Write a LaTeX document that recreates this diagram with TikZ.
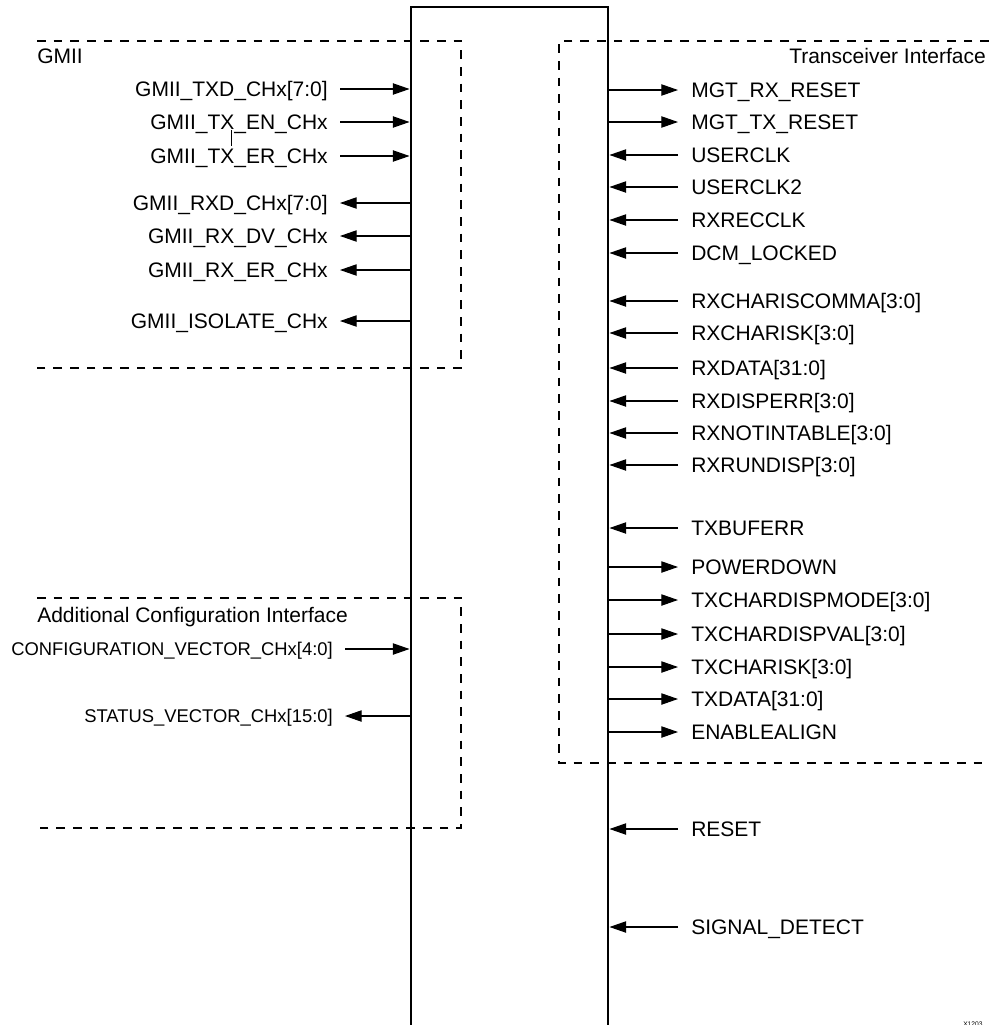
\documentclass[tikz,border=0pt]{standalone}
\usepackage{fontspec}
\setmainfont{Liberation Sans}
\usetikzlibrary{arrows.meta}
\newcommand\portfont{\fontsize{15.75}{19}\selectfont}
\newcommand\smallportfont{\fontsize{13.8}{16}\selectfont}
\tikzset{
  core/.style={draw, line width=2.2pt, minimum width=147.75pt, minimum height=789.75pt, inner sep=0pt},
  sigL/.style={anchor=east, font=\portfont, inner xsep=9pt, inner ysep=0pt, text height=11.3pt, text depth=0pt},
  sigR/.style={anchor=west, font=\portfont, inner xsep=9.75pt, inner ysep=0pt, text height=11.3pt, text depth=0pt},
  cfgL/.style={anchor=east, font=\smallportfont, inner xsep=9pt, inner ysep=0pt, text height=9.9pt, text depth=0pt},
  title/.style={font=\portfont, inner sep=0pt, text height=11.3pt, text depth=0pt},
  wire/.style={line width=0.8pt, -{Triangle[length=12.5pt,width=8.5pt]}},
  frame/.style={line width=0.9pt, dash pattern=on 6.5pt off 6pt}
}
\begin{document}
\begin{tikzpicture}[x=0.75pt,y=-0.75pt]
    \useasboundingbox (0,0) rectangle (989,1025);

    % interface groups
    \draw[frame] (37,41) -- (461,41) -- (461,368) -- (37,368);
    \draw[frame] (989,41) -- (559,41) -- (559,763) -- (989,763);
    \draw[frame] (37,598) -- (461,598) -- (461,828) -- (37,828);
    \node[title, anchor=west] (gmii) at (37,56) {GMII};
    \node[title, anchor=east] (mgt) at (986,56) {Transceiver Interface};
    \node[title, anchor=west] (cfg) at (37,615) {Additional Configuration Interface};

    % the core
    \node[core] (core) at (509.5,533.5) {};

    % GMII side
    \node[sigL] (txd) at (340,89) {GMII\_TXD\_CHx[7:0]};
    \node[sigL] (txen) at (340,122) {GMII\_TX\_EN\_CHx};
    \node[sigL] (txer) at (340,156) {GMII\_TX\_ER\_CHx};
    \node[sigL] (rxd) at (340,203) {GMII\_RXD\_CHx[7:0]};
    \node[sigL] (rxdv) at (340,236) {GMII\_RX\_DV\_CHx};
    \node[sigL] (rxer) at (340,270) {GMII\_RX\_ER\_CHx};
    \node[sigL] (iso) at (340,321) {GMII\_ISOLATE\_CHx};
    \draw[line width=0.5pt] (231,130) -- (231,146);

    \draw[wire] (txd.east) -- (txd.east -| core.west);
    \draw[wire] (txen.east) -- (txen.east -| core.west);
    \draw[wire] (txer.east) -- (txer.east -| core.west);
    \draw[wire] (rxd.east -| core.west) -- (rxd.east);
    \draw[wire] (rxdv.east -| core.west) -- (rxdv.east);
    \draw[wire] (rxer.east -| core.west) -- (rxer.east);
    \draw[wire] (iso.east -| core.west) -- (iso.east);

    % configuration side
    \node[cfgL] (cvec) at (345,649) {CONFIGURATION\_VECTOR\_CHx[4:0]};
    \node[cfgL] (svec) at (345,716) {STATUS\_VECTOR\_CHx[15:0]};
    \draw[wire] (cvec.east) -- (cvec.east -| core.west);
    \draw[wire] (svec.east -| core.west) -- (svec.east);

    % transceiver side
    \node[sigR] (rxrst) at (678,90) {MGT\_RX\_RESET};
    \node[sigR] (txrst) at (678,122) {MGT\_TX\_RESET};
    \node[sigR] (uclk) at (678,155) {USERCLK};
    \node[sigR] (uclk2) at (678,187) {USERCLK2};
    \node[sigR] (recclk) at (678,220) {RXRECCLK};
    \node[sigR] (dcm) at (678,253) {DCM\_LOCKED};
    \node[sigR] (comma) at (678,301) {RXCHARISCOMMA[3:0]};
    \node[sigR] (rxk) at (678,333) {RXCHARISK[3:0]};
    \node[sigR] (rxdata) at (678,368) {RXDATA[31:0]};
    \node[sigR] (disperr) at (678,401) {RXDISPERR[3:0]};
    \node[sigR] (notin) at (678,433) {RXNOTINTABLE[3:0]};
    \node[sigR] (rundisp) at (678,465) {RXRUNDISP[3:0]};
    \node[sigR] (buferr) at (678,528) {TXBUFERR};
    \node[sigR] (pdown) at (678,567) {POWERDOWN};
    \node[sigR] (dmode) at (678,600) {TXCHARDISPMODE[3:0]};
    \node[sigR] (dval) at (678,634) {TXCHARDISPVAL[3:0]};
    \node[sigR] (txk) at (678,667) {TXCHARISK[3:0]};
    \node[sigR] (txdata) at (678,699) {TXDATA[31:0]};
    \node[sigR] (align) at (678,732) {ENABLEALIGN};
    \node[sigR] (rst) at (678,829) {RESET};
    \node[sigR] (sigdet) at (678,927) {SIGNAL\_DETECT};

    \draw[wire] (rxrst.west -| core.east) -- (rxrst.west);
    \draw[wire] (txrst.west -| core.east) -- (txrst.west);
    \draw[wire] (uclk.west) -- (uclk.west -| core.east);
    \draw[wire] (uclk2.west) -- (uclk2.west -| core.east);
    \draw[wire] (recclk.west) -- (recclk.west -| core.east);
    \draw[wire] (dcm.west) -- (dcm.west -| core.east);
    \draw[wire] (comma.west) -- (comma.west -| core.east);
    \draw[wire] (rxk.west) -- (rxk.west -| core.east);
    \draw[wire] (rxdata.west) -- (rxdata.west -| core.east);
    \draw[wire] (disperr.west) -- (disperr.west -| core.east);
    \draw[wire] (notin.west) -- (notin.west -| core.east);
    \draw[wire] (rundisp.west) -- (rundisp.west -| core.east);
    \draw[wire] (buferr.west) -- (buferr.west -| core.east);
    \draw[wire] (pdown.west -| core.east) -- (pdown.west);
    \draw[wire] (dmode.west -| core.east) -- (dmode.west);
    \draw[wire] (dval.west -| core.east) -- (dval.west);
    \draw[wire] (txk.west -| core.east) -- (txk.west);
    \draw[wire] (txdata.west -| core.east) -- (txdata.west);
    \draw[wire] (align.west -| core.east) -- (align.west);
    \draw[wire] (rst.west) -- (rst.west -| core.east);
    \draw[wire] (sigdet.west) -- (sigdet.west -| core.east);

    \node[font=\fontsize{5}{6}\selectfont, anchor=north west, inner sep=0pt] (fig) at (963,1022) {X1203};
\end{tikzpicture}
\end{document}
